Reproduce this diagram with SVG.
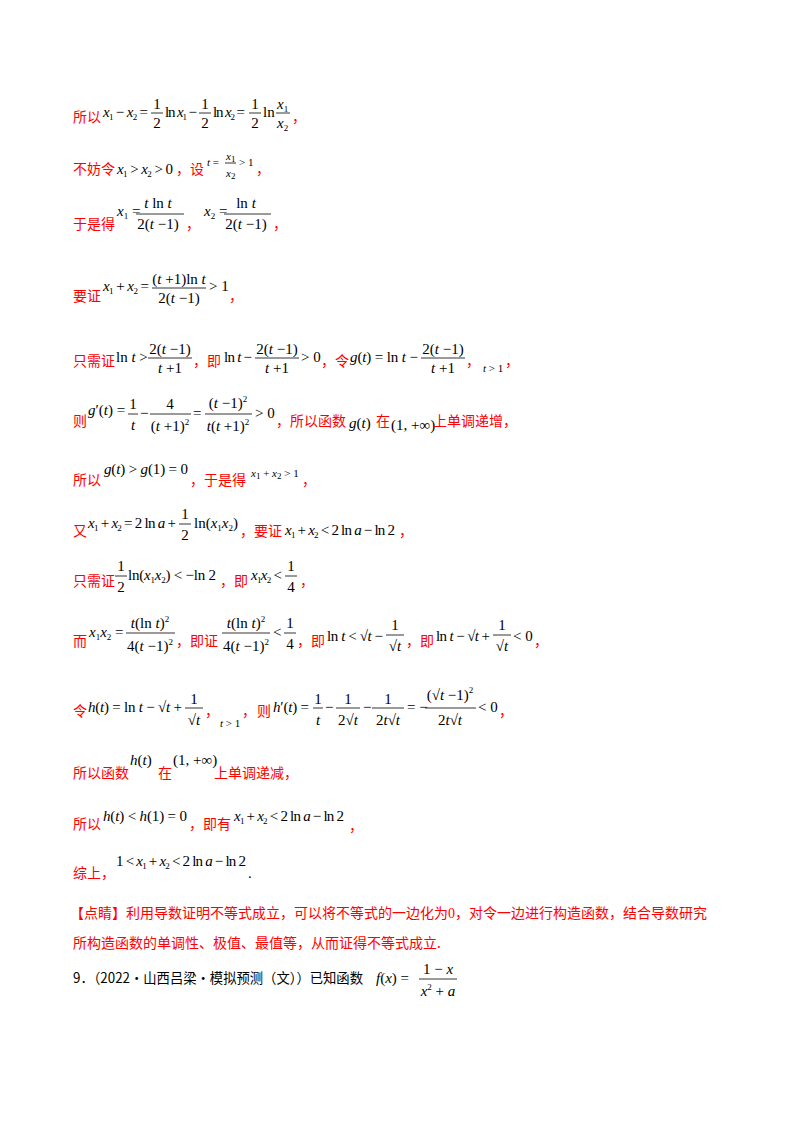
<svg xmlns="http://www.w3.org/2000/svg" width="800" height="1132" viewBox="0 0 800 1132">
<style>
.r{fill:#f00;font-family:"Noto Sans CJK SC",sans-serif;font-size:14px}
.m{fill:#000;font-family:"Liberation Serif",serif;font-size:15px}
.sm{font-size:11px}
.i{font-style:italic}
.s{font-size:9px}
.c{text-anchor:middle}
.k{fill:#000;font-family:"Noto Sans CJK SC",sans-serif;font-size:14px}
line{stroke:#000;stroke-width:0.8}
</style>
<rect width="800" height="1132" fill="#fff"/>
<g id="l1">
<text class="r" x="73" y="122">所以</text>
<text class="m" x="103" y="117" textLength="45" lengthAdjust="spacing"><tspan class="i">x</tspan><tspan dy="3" class="s">1</tspan><tspan dy="-3"> − </tspan><tspan class="i">x</tspan><tspan dy="3" class="s">2</tspan><tspan dy="-3"> =</tspan></text>
<text class="m c" x="157" y="109">1</text><text class="m c" x="157" y="128">2</text><line x1="151" x2="163" y1="113" y2="113"/>
<text class="m" x="165" y="117" textLength="32" lengthAdjust="spacing">ln <tspan class="i">x</tspan><tspan dy="3" class="s">1</tspan><tspan dy="-3"> −</tspan></text>
<text class="m c" x="205" y="109">1</text><text class="m c" x="205" y="128">2</text><line x1="199" x2="211" y1="113" y2="113"/>
<text class="m" x="213" y="117" textLength="32" lengthAdjust="spacing">ln <tspan class="i">x</tspan><tspan dy="3" class="s">2</tspan><tspan dy="-3"> =</tspan></text>
<text class="m c" x="255" y="109">1</text><text class="m c" x="255" y="128">2</text><line x1="249" x2="261" y1="113" y2="113"/>
<text class="m" x="263" y="117">ln</text>
<text class="m" x="277" y="109"><tspan class="i">x</tspan><tspan dy="3" class="s">1</tspan></text><text class="m" x="277" y="128"><tspan class="i">x</tspan><tspan dy="3" class="s">2</tspan></text><line x1="276" x2="290" y1="113" y2="113"/>
<text class="r" x="292" y="122">，</text>
</g>
<g id="l2">
<text class="r" x="73" y="174">不妨令</text>
<text class="m" x="117" y="174" textLength="56" lengthAdjust="spacing"><tspan class="i">x</tspan><tspan dy="3" class="s">1</tspan><tspan dy="-3"> &gt; </tspan><tspan class="i">x</tspan><tspan dy="3" class="s">2</tspan><tspan dy="-3"> &gt; 0</tspan></text>
<text class="r" x="176" y="174">，设</text>
<text class="m sm" x="207" y="166"><tspan class="i">t</tspan> =</text>
<text class="m sm" x="226" y="160"><tspan class="i">x</tspan><tspan dy="2" class="s">1</tspan></text><text class="m sm" x="226" y="177"><tspan class="i">x</tspan><tspan dy="2" class="s">2</tspan></text><line x1="225" x2="236" y1="163" y2="163"/>
<text class="m sm" x="239" y="166">&gt; 1</text>
<text class="r" x="256" y="174">，</text>
</g>
<g id="l3">
<text class="r" x="73" y="229">于是得</text>
<text class="m" x="117" y="216"><tspan class="i">x</tspan><tspan dy="3" class="s">1</tspan><tspan dy="-3"> =</tspan></text>
<text class="m c" x="158" y="208"><tspan class="i">t</tspan> ln <tspan class="i">t</tspan></text><text class="m c" x="158" y="229">2(<tspan class="i">t</tspan> −1)</text><line x1="136" x2="184" y1="214" y2="214"/>
<text class="r" x="186" y="229">，</text>
<text class="m" x="204" y="216"><tspan class="i">x</tspan><tspan dy="3" class="s">2</tspan><tspan dy="-3"> =</tspan></text>
<text class="m c" x="246" y="208">ln <tspan class="i">t</tspan></text><text class="m c" x="246" y="229">2(<tspan class="i">t</tspan> −1)</text><line x1="224" x2="271" y1="214" y2="214"/>
<text class="r" x="273" y="229">，</text>
</g>
<g id="l4">
<text class="r" x="73" y="301">要证</text>
<text class="m" x="103" y="291" textLength="46" lengthAdjust="spacing"><tspan class="i">x</tspan><tspan dy="3" class="s">1</tspan><tspan dy="-3"> + </tspan><tspan class="i">x</tspan><tspan dy="3" class="s">2</tspan><tspan dy="-3"> =</tspan></text>
<text class="m c" x="179" y="284">(<tspan class="i">t</tspan> +1)ln <tspan class="i">t</tspan></text><text class="m c" x="179" y="303">2(<tspan class="i">t</tspan> −1)</text><line x1="152" x2="206" y1="288" y2="288"/>
<text class="m" x="209" y="291">&gt; 1</text>
<text class="r" x="229" y="301">，</text>
</g>
<g id="l5">
<text class="r" x="73" y="366">只需证</text>
<text class="m" x="116" y="362">ln <tspan class="i">t</tspan> &gt;</text>
<text class="m c" x="170" y="354">2(<tspan class="i">t</tspan> −1)</text><text class="m c" x="170" y="373"><tspan class="i">t</tspan> +1</text><line x1="148" x2="192" y1="358" y2="358"/>
<text class="r" x="193" y="366">，即</text>
<text class="m" x="224" y="362" textLength="28" lengthAdjust="spacing">ln <tspan class="i">t</tspan> −</text>
<text class="m c" x="277" y="354">2(<tspan class="i">t</tspan> −1)</text><text class="m c" x="277" y="373"><tspan class="i">t</tspan> +1</text><line x1="255" x2="299" y1="358" y2="358"/>
<text class="m" x="301" y="362">&gt; 0</text>
<text class="r" x="321" y="366">，令</text>
<text class="m" x="350" y="362" textLength="68" lengthAdjust="spacing"><tspan class="i">g</tspan>(<tspan class="i">t</tspan>) = ln <tspan class="i">t</tspan> −</text>
<text class="m c" x="443" y="354">2(<tspan class="i">t</tspan> −1)</text><text class="m c" x="443" y="373"><tspan class="i">t</tspan> +1</text><line x1="421" x2="465" y1="358" y2="358"/>
<text class="r" x="466" y="366">，</text>
<text class="m sm" x="483" y="372"><tspan class="i">t</tspan> &gt; 1</text>
<text class="r" x="505" y="366">，</text>
</g>
<g id="l6">
<text class="r" x="73" y="426">则</text>
<text class="m" x="88" y="415"><tspan class="i">g</tspan>′(<tspan class="i">t</tspan>) =</text>
<text class="m c" x="133" y="409">1</text><text class="m c" x="133" y="430"><tspan class="i">t</tspan></text><line x1="128" x2="138" y1="414" y2="414"/>
<text class="m" x="140" y="418">−</text>
<text class="m c" x="170" y="409">4</text><text class="m c" x="170" y="431">(<tspan class="i">t</tspan> +1)<tspan dy="-6" class="s">2</tspan></text><line x1="150" x2="191" y1="414" y2="414"/>
<text class="m" x="193" y="418">=</text>
<text class="m c" x="228" y="408">(<tspan class="i">t</tspan> −1)<tspan dy="-6" class="s">2</tspan></text><text class="m c" x="228" y="431"><tspan class="i">t</tspan>(<tspan class="i">t</tspan> +1)<tspan dy="-6" class="s">2</tspan></text><line x1="205" x2="252" y1="414" y2="414"/>
<text class="m" x="255" y="418">&gt; 0</text>
<text class="r" x="276" y="426">，所以函数</text>
<text class="m" x="349" y="428"><tspan class="i">g</tspan>(<tspan class="i">t</tspan>)</text>
<text class="r" x="376" y="426">在</text>
<text class="m" x="391" y="430">(1, +∞)</text>
<text class="r" x="433" y="426">上单调递增，</text>
</g>
<g id="l7">
<text class="r" x="73" y="485">所以</text>
<text class="m" x="104" y="474" textLength="84" lengthAdjust="spacing"><tspan class="i">g</tspan>(<tspan class="i">t</tspan>) &gt; <tspan class="i">g</tspan>(1) = 0</text>
<text class="r" x="190" y="485">，于是得</text>
<text class="m sm" x="251" y="477"><tspan class="i">x</tspan><tspan dy="2" class="s">1</tspan><tspan dy="-2"> + </tspan><tspan class="i">x</tspan><tspan dy="2" class="s">2</tspan><tspan dy="-2"> &gt; 1</tspan></text>
<text class="r" x="302" y="485">，</text>
</g>
<g id="l8">
<text class="r" x="73" y="536">又</text>
<text class="m" x="88" y="528" textLength="88" lengthAdjust="spacing"><tspan class="i">x</tspan><tspan dy="3" class="s">1</tspan><tspan dy="-3"> + </tspan><tspan class="i">x</tspan><tspan dy="3" class="s">2</tspan><tspan dy="-3"> = 2 ln </tspan><tspan class="i">a</tspan> +</text>
<text class="m c" x="185" y="519">1</text><text class="m c" x="185" y="540">2</text><line x1="179" x2="191" y1="524" y2="524"/>
<text class="m" x="194" y="528" textLength="44" lengthAdjust="spacing">ln(<tspan class="i">x</tspan><tspan dy="3" class="s">1</tspan><tspan dy="-3" class="i">x</tspan><tspan dy="3" class="s">2</tspan><tspan dy="-3">)</tspan></text>
<text class="r" x="240" y="536">，要证</text>
<text class="m" x="285" y="535" textLength="110" lengthAdjust="spacing"><tspan class="i">x</tspan><tspan dy="3" class="s">1</tspan><tspan dy="-3"> + </tspan><tspan class="i">x</tspan><tspan dy="3" class="s">2</tspan><tspan dy="-3"> &lt; 2 ln </tspan><tspan class="i">a</tspan> − ln 2</text>
<text class="r" x="399" y="536">，</text>
</g>
<g id="l9">
<text class="r" x="73" y="586">只需证</text>
<text class="m c" x="121" y="571">1</text><text class="m c" x="121" y="592">2</text><line x1="115" x2="127" y1="576" y2="576"/>
<text class="m" x="128" y="580" textLength="88" lengthAdjust="spacing">ln(<tspan class="i">x</tspan><tspan dy="3" class="s">1</tspan><tspan dy="-3" class="i">x</tspan><tspan dy="3" class="s">2</tspan><tspan dy="-3">) &lt; −ln 2</tspan></text>
<text class="r" x="220" y="586">，即</text>
<text class="m" x="251" y="580" textLength="31" lengthAdjust="spacing"><tspan class="i">x</tspan><tspan dy="3" class="s">1</tspan><tspan dy="-3" class="i">x</tspan><tspan dy="3" class="s">2</tspan><tspan dy="-3"> &lt;</tspan></text>
<text class="m c" x="291" y="571">1</text><text class="m c" x="291" y="592">4</text><line x1="285" x2="297" y1="576" y2="576"/>
<text class="r" x="300" y="586">，</text>
</g>
<g id="l10">
<text class="r" x="73" y="646">而</text>
<text class="m" x="89" y="637"><tspan class="i">x</tspan><tspan dy="3" class="s">1</tspan><tspan dy="-3" class="i">x</tspan><tspan dy="3" class="s">2</tspan><tspan dy="-3"> =</tspan></text>
<text class="m c" x="150" y="628"><tspan class="i">t</tspan>(ln <tspan class="i">t</tspan>)<tspan dy="-6" class="s">2</tspan></text><text class="m c" x="150" y="651">4(<tspan class="i">t</tspan> −1)<tspan dy="-6" class="s">2</tspan></text><line x1="126" x2="175" y1="633" y2="633"/>
<text class="r" x="176" y="646">，即证</text>
<text class="m c" x="246" y="628"><tspan class="i">t</tspan>(ln <tspan class="i">t</tspan>)<tspan dy="-6" class="s">2</tspan></text><text class="m c" x="246" y="651">4(<tspan class="i">t</tspan> −1)<tspan dy="-6" class="s">2</tspan></text><line x1="222" x2="270" y1="633" y2="633"/>
<text class="m" x="273" y="637">&lt;</text>
<text class="m c" x="290" y="628">1</text><text class="m c" x="290" y="649">4</text><line x1="284" x2="296" y1="633" y2="633"/>
<text class="r" x="297" y="646">，即</text>
<text class="m" x="327" y="641" textLength="56" lengthAdjust="spacing">ln <tspan class="i">t</tspan> &lt; √<tspan class="i">t</tspan> −</text>
<text class="m c" x="395" y="630">1</text><text class="m c" x="395" y="651">√<tspan class="i">t</tspan></text><line x1="386" x2="404" y1="635" y2="635"/>
<text class="r" x="406" y="646">，即</text>
<text class="m" x="436" y="641" textLength="54" lengthAdjust="spacing">ln <tspan class="i">t</tspan> − √<tspan class="i">t</tspan> +</text>
<text class="m c" x="502" y="630">1</text><text class="m c" x="502" y="651">√<tspan class="i">t</tspan></text><line x1="493" x2="511" y1="635" y2="635"/>
<text class="m" x="513" y="641">&lt; 0</text>
<text class="r" x="534" y="646">，</text>
</g>
<g id="l11">
<text class="r" x="73" y="716">令</text>
<text class="m" x="88" y="712" textLength="94" lengthAdjust="spacing"><tspan class="i">h</tspan>(<tspan class="i">t</tspan>) = ln <tspan class="i">t</tspan> − √<tspan class="i">t</tspan> +</text>
<text class="m c" x="194" y="704">1</text><text class="m c" x="194" y="725">√<tspan class="i">t</tspan></text><line x1="185" x2="203" y1="708" y2="708"/>
<text class="r" x="205" y="716">，</text>
<text class="m sm" x="220" y="727"><tspan class="i">t</tspan> &gt; 1</text>
<text class="r" x="242" y="716">，</text>
<text class="r" x="257" y="716">则</text>
<text class="m" x="273" y="712" textLength="36" lengthAdjust="spacing"><tspan class="i">h</tspan>′(<tspan class="i">t</tspan>) =</text>
<text class="m c" x="318" y="704">1</text><text class="m c" x="318" y="725"><tspan class="i">t</tspan></text><line x1="313" x2="323" y1="708" y2="708"/>
<text class="m" x="325" y="712">−</text>
<text class="m c" x="348" y="704">1</text><text class="m c" x="348" y="725">2√<tspan class="i">t</tspan></text><line x1="336" x2="360" y1="708" y2="708"/>
<text class="m" x="363" y="712">−</text>
<text class="m c" x="388" y="704">1</text><text class="m c" x="388" y="725">2<tspan class="i">t</tspan>√<tspan class="i">t</tspan></text><line x1="372" x2="404" y1="708" y2="708"/>
<text class="m" x="407" y="712">= −</text>
<text class="m c" x="450" y="700">(√<tspan class="i">t</tspan> −1)<tspan dy="-7" class="s">2</tspan></text><text class="m c" x="450" y="725">2<tspan class="i">t</tspan>√<tspan class="i">t</tspan></text><line x1="425" x2="476" y1="708" y2="708"/>
<text class="m" x="478" y="712">&lt; 0</text>
<text class="r" x="499" y="716">，</text>
</g>
<g id="l12">
<text class="r" x="73" y="778">所以函数</text>
<text class="m" x="130" y="765"><tspan class="i">h</tspan>(<tspan class="i">t</tspan>)</text>
<text class="r" x="158" y="778">在</text>
<text class="m" x="173" y="765">(1, +∞)</text>
<text class="r" x="214" y="778">上单调递减，</text>
</g>
<g id="l13">
<text class="r" x="73" y="829">所以</text>
<text class="m" x="103" y="821" textLength="84" lengthAdjust="spacing"><tspan class="i">h</tspan>(<tspan class="i">t</tspan>) &lt; <tspan class="i">h</tspan>(1) = 0</text>
<text class="r" x="189" y="829">，即有</text>
<text class="m" x="234" y="821" textLength="110" lengthAdjust="spacing"><tspan class="i">x</tspan><tspan dy="3" class="s">1</tspan><tspan dy="-3"> + </tspan><tspan class="i">x</tspan><tspan dy="3" class="s">2</tspan><tspan dy="-3"> &lt; 2 ln </tspan><tspan class="i">a</tspan> − ln 2</text>
<text class="r" x="349" y="831">，</text>
</g>
<g id="l14">
<text class="r" x="73" y="878">综上，</text>
<text class="m" x="116" y="866" textLength="130" lengthAdjust="spacing">1 &lt; <tspan class="i">x</tspan><tspan dy="3" class="s">1</tspan><tspan dy="-3"> + </tspan><tspan class="i">x</tspan><tspan dy="3" class="s">2</tspan><tspan dy="-3"> &lt; 2 ln </tspan><tspan class="i">a</tspan> − ln 2</text>
<text class="m" x="248" y="878">.</text>
</g>
<g id="note">
<text class="r" x="70" y="918">【点睛】利用导数证明不等式成立，可以将不等式的一边化为<tspan font-family="Liberation Serif">0</tspan>，对令一边进行构造函数，结合导数研究</text>
<text class="r" x="73" y="948">所构造函数的单调性、极值、最值等，从而证得不等式成立.</text>
</g>
<g id="q9">
<text class="k" x="73" y="983" textLength="290" lengthAdjust="spacingAndGlyphs">9．（2022·山西吕梁·模拟预测（文））已知函数</text>
<text class="m" x="376" y="983"><tspan class="i">f</tspan>(<tspan class="i">x</tspan>) =</text>
<text class="m c" x="438" y="974">1 − <tspan class="i">x</tspan></text><text class="m c" x="438" y="996"><tspan class="i">x</tspan><tspan dy="-6" class="s">2</tspan><tspan dy="6"> + </tspan><tspan class="i">a</tspan></text><line x1="419" x2="457" y1="979" y2="979"/>
</g>
</svg>
